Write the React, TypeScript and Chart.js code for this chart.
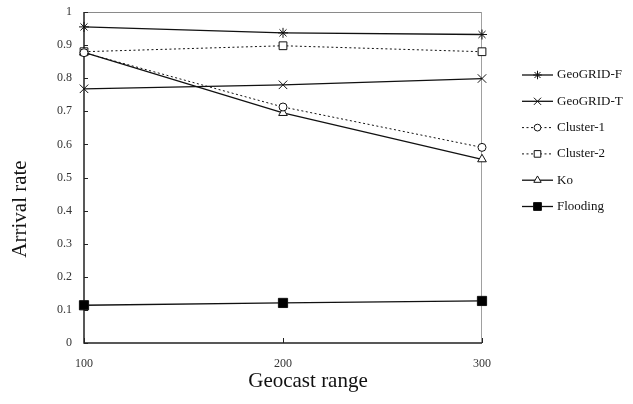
import React, { useEffect, useRef } from "react";
import { Chart, registerables } from "chart.js";
import { drawPoint } from "chart.js/helpers";

Chart.register(...registerables);

// Geocast range (x) and arrival rate per protocol (y)
const ranges = [100, 200, 300];
const geoGridF = [0.955, 0.937, 0.932];
const geoGridT = [0.768, 0.78, 0.799];
const cluster1 = [0.877, 0.713, 0.591];
const cluster2 = [0.88, 0.898, 0.88];
const ko = [0.878, 0.695, 0.555];
const flooding = [0.114, 0.121, 0.127];

const seriesNames = ["GeoGRID-F", "GeoGRID-T", "Cluster-1", "Cluster-2", "Ko", "Flooding"];
const yTickValues = [0, 0.1, 0.2, 0.3, 0.4, 0.5, 0.6, 0.7, 0.8, 0.9, 1];
const xTickValues = [100, 200, 300];

const SERIF = "'Liberation Serif', 'DejaVu Serif', serif";

const toPoints = (vals: number[]) => ranges.map((x, i) => ({ x, y: vals[i] }));

// Plot frame and inner tick marks, drawn beneath the series
const frame = {
  id: "frame",
  beforeDatasetsDraw(chart: any) {
    const { ctx, chartArea } = chart;
    const { left, right, top, bottom } = chartArea;
    const yScale = chart.scales.y;
    const xScale = chart.scales.x;
    ctx.save();

    ctx.lineWidth = 1;
    ctx.strokeStyle = "#8a8a8a";
    ctx.beginPath();
    ctx.moveTo(left, top + 0.5);
    ctx.lineTo(right, top + 0.5);
    ctx.stroke();
    ctx.strokeStyle = "#a0a0a0";
    ctx.beginPath();
    ctx.moveTo(right - 0.5, top);
    ctx.lineTo(right - 0.5, bottom);
    ctx.stroke();

    ctx.strokeStyle = "#222";
    ctx.lineWidth = 1.5;
    ctx.beginPath();
    ctx.moveTo(left, top);
    ctx.lineTo(left, bottom);
    ctx.lineTo(right, bottom);
    ctx.stroke();

    ctx.lineWidth = 1;
    yTickValues.forEach((v) => {
      const y = Math.round(yScale.getPixelForValue(v)) + 0.5;
      ctx.beginPath();
      ctx.moveTo(left, y);
      ctx.lineTo(left + 4, y);
      ctx.stroke();
    });
    xTickValues.forEach((v) => {
      const x = Math.round(xScale.getPixelForValue(v)) + 0.5;
      ctx.beginPath();
      ctx.moveTo(x, bottom);
      ctx.lineTo(x, bottom - 5);
      ctx.stroke();
    });
    ctx.restore();
  },
};

// Axis titles and the side legend
const annotations = {
  id: "annotations",
  afterDatasetsDraw(chart: any) {
    const { ctx } = chart;
    ctx.save();
    ctx.fillStyle = "#111";
    ctx.font = `21px ${SERIF}`;
    ctx.textAlign = "center";
    ctx.textBaseline = "middle";
    ctx.fillText("Geocast range", 308, 381);
    ctx.save();
    ctx.translate(20, 209);
    ctx.rotate(-Math.PI / 2);
    ctx.fillText("Arrival rate", 0, 0);
    ctx.restore();

    const lx0 = 522;
    const lx1 = 553;
    chart.data.datasets.forEach((ds: any, i: number) => {
      const y = 75 + i * 26.3;
      ctx.save();
      ctx.strokeStyle = ds.borderColor;
      ctx.lineWidth = ds.borderWidth;
      ctx.setLineDash(ds.borderDash || []);
      ctx.beginPath();
      ctx.moveTo(lx0, y);
      ctx.lineTo(lx1, y);
      ctx.stroke();
      ctx.setLineDash([]);
      ctx.fillStyle = ds.pointBackgroundColor;
      ctx.strokeStyle = ds.pointBorderColor;
      ctx.lineWidth = ds.pointBorderWidth;
      drawPoint(ctx, {
        pointStyle: ds.pointStyle,
        radius: ds.pointRadius * 0.85,
        borderWidth: ds.pointBorderWidth,
        rotation: 0,
      } as any, (lx0 + lx1) / 2, y);
      ctx.restore();
      ctx.fillStyle = "#111";
      ctx.font = `13px ${SERIF}`;
      ctx.textAlign = "left";
      ctx.textBaseline = "middle";
      ctx.fillText(ds.label, lx1 + 4, y);
    });

    ctx.restore();
  },
};

function makeDataset(label: string, vals: number[], style: string, radius: number, filled: boolean, dotted: boolean) {
  return {
    label,
    data: toPoints(vals),
    borderColor: "#111",
    borderWidth: dotted ? 1 : 1.3,
    borderDash: dotted ? [2, 2.5] : [],
    pointStyle: style,
    pointRadius: radius,
    pointBorderWidth: 1,
    pointBorderColor: "#111",
    pointBackgroundColor: filled ? "#000" : "#fff",
    tension: 0,
    fill: false,
    clip: false,
  };
}

export default function App() {
  const canvasRef = useRef<HTMLCanvasElement | null>(null);

  useEffect(() => {
    if (!canvasRef.current) return;
    const chart = new Chart(canvasRef.current, {
      type: "line",
      data: {
        datasets: [
          makeDataset(seriesNames[0], geoGridF, "star", 5, false, false),
          makeDataset(seriesNames[1], geoGridT, "crossRot", 6, false, false),
          makeDataset(seriesNames[2], cluster1, "circle", 4, false, true),
          makeDataset(seriesNames[3], cluster2, "rect", 5.5, false, true),
          makeDataset(seriesNames[4], ko, "triangle", 5, false, false),
          makeDataset(seriesNames[5], flooding, "rect", 6.5, true, false),
        ] as any,
      },
      plugins: [frame, annotations],
      options: {
        animation: false,
        responsive: false,
        devicePixelRatio: 1,
        events: [],
        layout: { padding: { left: 0, top: 12, right: 151, bottom: 0 } },
        plugins: {
          legend: { display: false },
          tooltip: { enabled: false },
        },
        scales: {
          x: {
            type: "linear",
            min: 100,
            max: 300,
            afterFit: (s: any) => {
              s.height = 61;
              s.paddingLeft = 0;
              s.paddingRight = 0;
            },
            afterBuildTicks: (s: any) => {
              s.ticks = xTickValues.map((v) => ({ value: v }));
            },
            grid: { display: false, drawTicks: false },
            border: { display: false },
            ticks: {
              padding: 14,
              color: "#333",
              font: { family: SERIF, size: 12 },
              maxRotation: 0,
              autoSkip: false,
            },
          },
          y: {
            type: "linear",
            min: 0,
            max: 1,
            afterFit: (s: any) => {
              s.width = 84;
              s.paddingTop = 0;
              s.paddingBottom = 0;
            },
            afterBuildTicks: (s: any) => {
              s.ticks = yTickValues.map((v) => ({ value: v }));
            },
            grid: { display: false, drawTicks: false },
            border: { display: false },
            ticks: {
              padding: 12,
              color: "#333",
              font: { family: SERIF, size: 12 },
              callback: (v: any) => String(Number(Number(v).toFixed(1))),
            },
          },
        },
      } as any,
    });
    return () => chart.destroy();
  }, []);

  return (
    <div style={{ position: "absolute", left: 0, top: 0, width: 633, height: 404, background: "#fff" }}>
      <canvas ref={canvasRef} width={633} height={404} style={{ width: 633, height: 404, display: "block" }} />
    </div>
  );
}
